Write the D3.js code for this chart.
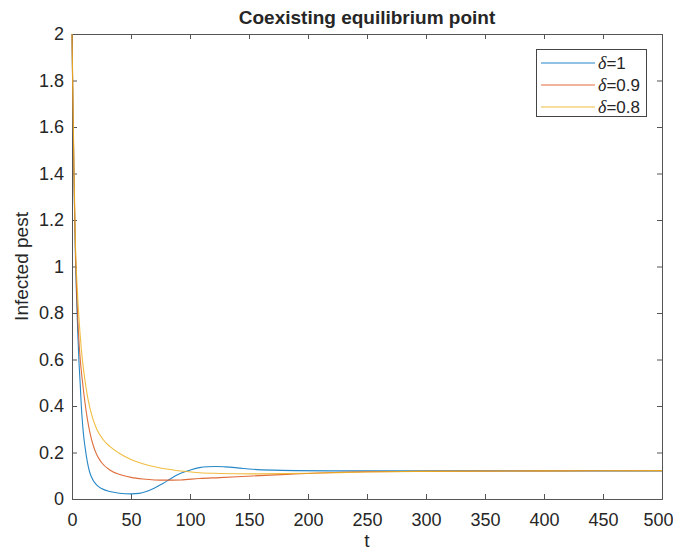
<!DOCTYPE html>
<html>
<head>
<meta charset="utf-8">
<script src="https://cdn.jsdelivr.net/npm/d3@7"></script>
<style>
  body { margin: 0; background: #fff; }
  text { font-family: "Liberation Sans", Arial, sans-serif; fill: #262626; }
</style>
</head>
<body>
<div id="chart"></div>
<script>
// time samples and curves
const tBlue = [0, 1, 2, 3, 4, 5, 6, 7, 8, 9, 10, 11, 13, 15, 18, 21, 25, 32, 40, 50, 57, 63, 70, 77, 83, 89, 95, 101, 108, 115, 122, 130, 140, 153, 170, 190, 220, 300, 400, 500];
const vBlue = [2, 1.6, 1.28, 1.02, 0.85, 0.7, 0.58, 0.49, 0.39, 0.32, 0.265, 0.225, 0.16, 0.115, 0.08, 0.06, 0.045, 0.032, 0.025, 0.022, 0.024, 0.032, 0.047, 0.067, 0.085, 0.103, 0.116, 0.126, 0.135, 0.139, 0.14, 0.138, 0.134, 0.128, 0.124, 0.122, 0.121, 0.121, 0.121, 0.121];

const tRed = [0, 1, 2, 3, 4, 5, 6, 7, 8, 9, 10, 11, 13, 15, 18, 21, 25, 32, 40, 50, 60, 70, 80, 92, 108, 125, 153, 182, 210, 250, 300, 400, 500];
const vRed = [2, 1.62, 1.3, 1.05, 0.88, 0.76, 0.67, 0.6, 0.545, 0.5, 0.455, 0.415, 0.345, 0.29, 0.23, 0.19, 0.157, 0.125, 0.106, 0.093, 0.086, 0.082, 0.081, 0.082, 0.088, 0.092, 0.099, 0.106, 0.112, 0.117, 0.119, 0.121, 0.122];

const tYellow = [0, 1, 2, 3, 4, 5, 6, 7, 8, 9, 11, 13, 15, 18, 21, 26, 32, 40, 50, 60, 70, 80, 97, 108, 125, 153, 180, 210, 250, 300, 400, 500];
const vYellow = [2, 1.65, 1.33, 1.08, 0.95, 0.85, 0.77, 0.7, 0.64, 0.59, 0.51, 0.445, 0.395, 0.34, 0.3, 0.258, 0.226, 0.197, 0.17, 0.152, 0.139, 0.129, 0.118, 0.113, 0.11, 0.108, 0.109, 0.112, 0.116, 0.119, 0.121, 0.122];

const seriesNames = ["=1", "=0.9", "=0.8"];
const seriesColors = ["#0072BD", "#D95319", "#EDB120"];

const xTicks = [0, 50, 100, 150, 200, 250, 300, 350, 400, 450, 500];
const yTicks = [0, 0.2, 0.4, 0.6, 0.8, 1, 1.2, 1.4, 1.6, 1.8, 2];

const width = 673;
const height = 552;
const margin = { top: 34, right: 11, bottom: 53, left: 72 };

const svg = d3.select("#chart")
    .append("svg")
    .attr("width", width)
    .attr("height", height);

const x = d3.scaleLinear().domain([0, 500]).range([margin.left, width - margin.right]);
const y = d3.scaleLinear().domain([0, 2]).range([height - margin.bottom, margin.top]);

const axisColor = "#555";
const tickLen = 5;

// axes (MATLAB-like: inward ticks, box on)
const xAxis = svg.append("g")
    .attr("transform", `translate(0,${y(0)})`)
    .call(d3.axisBottom(x).tickValues(xTicks).tickSize(-tickLen).tickPadding(14).tickFormat(d3.format("d")));
const xAxisTop = svg.append("g")
    .attr("transform", `translate(0,${y(2)})`)
    .call(d3.axisTop(x).tickValues(xTicks).tickSize(-tickLen).tickFormat(""));
const yAxis = svg.append("g")
    .attr("transform", `translate(${x(0)},0)`)
    .call(d3.axisLeft(y).tickValues(yTicks).tickSize(-tickLen).tickPadding(8).tickFormat(d => String(+d.toFixed(1))));
const yAxisRight = svg.append("g")
    .attr("transform", `translate(${x(500)},0)`)
    .call(d3.axisRight(y).tickValues(yTicks).tickSize(-tickLen).tickFormat(""));

[xAxis, xAxisTop, yAxis, yAxisRight].forEach(g => {
    g.select(".domain").attr("stroke", axisColor);
    g.selectAll(".tick line").attr("stroke", axisColor);
    g.selectAll(".tick text")
        .attr("font-size", 18)
        .attr("fill", "#262626")
        .attr("font-family", "'Liberation Sans', Arial, sans-serif");
});
// last label sits at the page edge, as in the picture
xAxis.selectAll(".tick text").filter(d => d === 500).attr("text-anchor", "end").attr("dx", 11);

// curves
const line = d3.line()
    .x(d => x(d[0]))
    .y(d => y(d[1]))
    .curve(d3.curveMonotoneX);

const series = [
    d3.zip(tBlue, vBlue),
    d3.zip(tRed, vRed),
    d3.zip(tYellow, vYellow)
];

svg.append("g")
    .selectAll("path")
    .data(series)
    .join("path")
    .attr("fill", "none")
    .attr("stroke", (d, i) => seriesColors[i])
    .attr("stroke-opacity", 0.85)
    .attr("stroke-width", 1.1)
    .attr("d", line);

// title and labels
svg.append("text")
    .attr("x", (x(0) + x(500)) / 2)
    .attr("y", 24)
    .attr("text-anchor", "middle")
    .attr("font-size", 19)
    .attr("font-weight", "bold")
    .text("Coexisting equilibrium point");

svg.append("text")
    .attr("x", (x(0) + x(500)) / 2)
    .attr("y", 547)
    .attr("text-anchor", "middle")
    .attr("font-size", 19)
    .text("t");

svg.append("text")
    .attr("transform", `translate(28,${(y(0) + y(2)) / 2}) rotate(-90)`)
    .attr("text-anchor", "middle")
    .attr("font-size", 19)
    .text("Infected pest");

// legend
const legend = svg.append("g");
legend.append("rect")
    .attr("x", 536.5)
    .attr("y", 49.5)
    .attr("width", 110)
    .attr("height", 67)
    .attr("fill", "#fff")
    .attr("stroke", "#444")
    .attr("stroke-width", 1);

const rows = legend.selectAll("g.row")
    .data(seriesNames)
    .join("g")
    .attr("class", "row")
    .attr("transform", (d, i) => `translate(0,${63 + i * 22})`);

rows.append("line")
    .attr("x1", 541)
    .attr("x2", 595)
    .attr("stroke", (d, i) => seriesColors[i])
    .attr("stroke-opacity", 0.85)
    .attr("stroke-width", 1.1);

const lt = rows.append("text")
    .attr("x", 598)
    .attr("y", 6)
    .attr("font-size", 17);
lt.append("tspan")
    .attr("font-family", "'Liberation Serif', 'Times New Roman', serif")
    .attr("font-style", "italic")
    .attr("font-size", 18)
    .text("δ");
lt.append("tspan")
    .text(d => d);
</script>
</body>
</html>
